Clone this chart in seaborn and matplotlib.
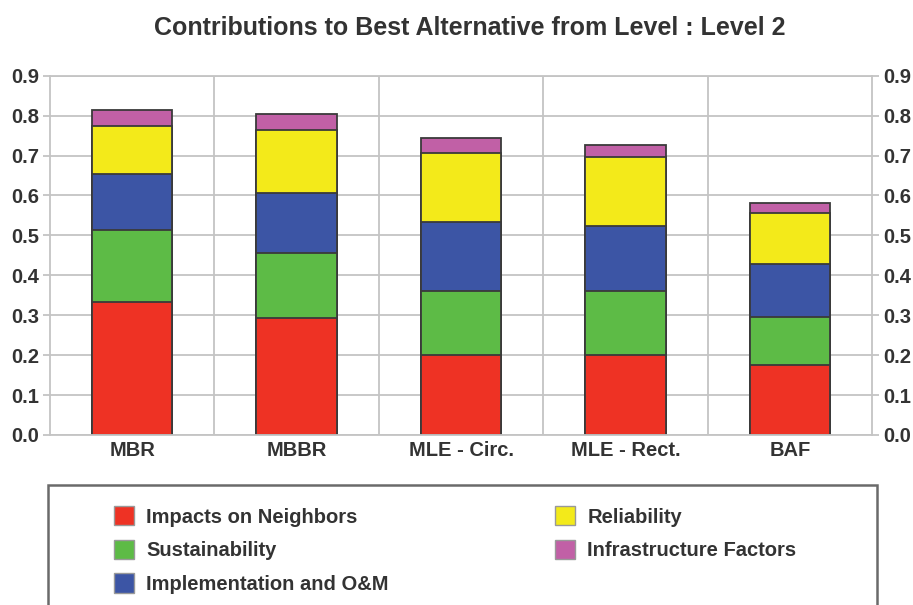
import numpy as np
import pandas as pd
import matplotlib
matplotlib.use("Agg")
import matplotlib.pyplot as plt
import seaborn as sns
from matplotlib.patches import Patch, Rectangle

# data
alternatives = ["MBR", "MBBR", "MLE - Circ.", "MLE - Rect.", "BAF"]
criteria = ["Impacts on Neighbors", "Sustainability", "Implementation and O&M",
            "Reliability", "Infrastructure Factors"]
impacts = [0.334, 0.294, 0.200, 0.200, 0.175]
sustainability = [0.179, 0.161, 0.161, 0.161, 0.121]
implementation = [0.142, 0.150, 0.173, 0.163, 0.132]
reliability = [0.120, 0.159, 0.173, 0.172, 0.127]
infrastructure = [0.039, 0.039, 0.038, 0.031, 0.027]
colors = ["#EE3224", "#5DBB46", "#3C55A5", "#F3EA1A", "#C160A6"]

sns.set_style("white")
plt.rcParams["font.family"] = ["Liberation Sans", "DejaVu Sans"]
plt.rcParams["font.weight"] = "bold"

segments = np.array([impacts, sustainability, implementation, reliability, infrastructure])
cumulative = np.cumsum(segments, axis=0)

fig = plt.figure(figsize=(9.13, 6.05), dpi=100)
ax = fig.add_axes([50 / 913, 170 / 605, 822 / 913, 359.3 / 605])

grid_color = "#c4c4c4"
text_color = "#333333"
ax.set_axisbelow(True)
ax.yaxis.grid(True, color=grid_color, linewidth=1.3)

# stacked bars: draw the cumulative totals from the top layer down
for i in range(len(criteria) - 1, -1, -1):
    df = pd.DataFrame({"Alternative": alternatives, "Value": cumulative[i]})
    sns.barplot(data=df, x="Alternative", y="Value", color=colors[i], width=0.49,
                edgecolor="#3a3a3a", linewidth=1.3, saturation=1, ax=ax)

ax.set_ylim(0, 0.9)
ax.set_xlim(-0.5, 4.5)
ax.set_yticks(np.arange(0, 0.91, 0.1))
ax.set_yticklabels([f"{v:.1f}" for v in np.arange(0, 0.91, 0.1)])
ax.set_xlabel("")
ax.set_ylabel("")

# category separators below the axis
ax.set_xticks(np.arange(-0.5, 4.6, 1), minor=True)
ax.tick_params(axis="x", which="minor", length=20, width=1.3, color=grid_color)
ax.tick_params(axis="x", which="major", length=0, pad=4, labelsize=14.5, labelcolor=text_color)
ax.tick_params(axis="y", length=5, width=1.3, color=grid_color, labelsize=14.5,
               labelcolor=text_color, left=True, right=True, labelleft=True, labelright=True,
               pad=3)
for xb in np.arange(0.5, 4.5, 1):
    ax.axvline(xb, color=grid_color, linewidth=1.3, zorder=0)
for side in ["left", "right", "bottom", "top"]:
    ax.spines[side].set_color(grid_color)
    ax.spines[side].set_linewidth(1.3)

fig.text(470 / 913, 1 - 28 / 605, "Contributions to Best Alternative from Level : Level 2",
         ha="center", va="center", fontsize=18, fontweight="bold", color=text_color)

# legend box
fig.patches.append(Rectangle((48 / 913, -0.05), 829 / 913, 0.05 + (605 - 485) / 605,
                             transform=fig.transFigure, fill=False,
                             edgecolor="#6a6a6a", linewidth=1.8))
handles = [Patch(facecolor=c, edgecolor="#999999") for c in colors]
legend_kw = dict(loc="upper left", frameon=False, fontsize=14.5, handlelength=1.0,
                 handleheight=1.1, handletextpad=0.6, labelspacing=0.65, borderpad=0,
                 borderaxespad=0, labelcolor=text_color)
fig.legend(handles[:3], criteria[:3], bbox_to_anchor=(114 / 913, 1 - 506 / 605), **legend_kw)
fig.legend(handles[3:], criteria[3:], bbox_to_anchor=(555 / 913, 1 - 506 / 605), **legend_kw)

fig.savefig("out.png", dpi=100)
